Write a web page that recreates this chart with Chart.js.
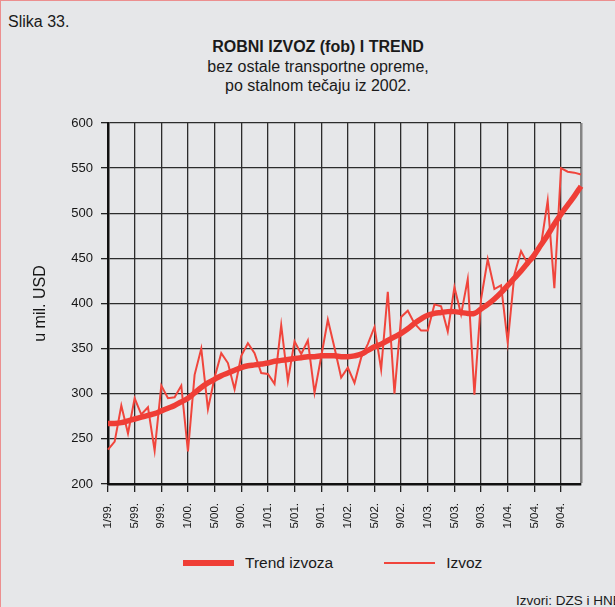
<!DOCTYPE html>
<html>
<head>
<meta charset="utf-8">
<script src="https://cdn.jsdelivr.net/npm/chart.js@4"></script>
<style>
  body { margin: 0; }
  #page {
    position: relative; width: 615px; height: 607px; overflow: hidden;
    background: #e6e7e9; box-sizing: border-box;
    border-top: 1px solid #ec8f8f; border-left: 1px solid #ec8f8f;
    font-family: "Liberation Sans", Arial, sans-serif; color: #1a1a1a;
  }
  .txt { position: absolute; white-space: nowrap; }
  #fig { left: 7px; top: 12px; font-size: 16px; }
  #head { left: 0; width: 634px; top: 36px; text-align: center; font-size: 16px; line-height: 19.5px; }
  #head b { font-weight: bold; }
  #src { left: 515px; top: 592px; font-size: 13.5px; }
  #chartBox { position: absolute; left: 0; top: 100px; width: 615px; height: 445px; }
  #legend { position: absolute; left: 182px; top: 553px; display: flex; gap: 51px; font-size: 15.5px; }
  #legend .item { display: flex; align-items: center; }
  #legend .line { width: 51px; margin-right: 11px; }
</style>
</head>
<body>
<div id="page">
  <div class="txt" id="fig">Slika 33.</div>
  <div class="txt" id="head"><b>ROBNI IZVOZ (fob) I TREND</b><br>bez ostale transportne opreme,<br>po stalnom tečaju iz 2002.</div>
  <div id="chartBox"><canvas id="exportChart"></canvas></div>
  <div id="legend"></div>
  <div class="txt" id="src">Izvori: DZS i HNB</div>
</div>
<script>
// months 1/99 .. 12/04
const years = ["99", "00", "01", "02", "03", "04"];
const months = [];
years.forEach(function (y) {
    for (let m = 1; m <= 12; m++) months.push(m + "/" + y + ".");
});

// monthly export, mil. USD
const izvoz = [
    238, 247, 287, 256, 295, 277, 285, 237, 309, 295, 296, 309,
    236, 321, 350, 283, 318, 345, 334, 305, 342, 356, 345, 323,
    322, 311, 376, 314, 358, 344, 359, 301, 341, 382, 351, 318,
    329, 312, 340, 355, 374, 327, 413, 300, 385, 392, 378, 370,
    370, 399, 397, 369, 418, 388, 427, 299, 405, 449, 416, 420,
    357, 432, 458, 444, 450, 465, 514, 417, 550, 546, 545, 543
];

// trend
const trend = [
    267, 267, 268, 270, 272, 274, 276, 278, 281, 284, 287, 291,
    295, 301, 307, 312, 316, 320, 323, 326, 329, 331, 332, 333,
    334, 336, 337, 338, 339, 340, 341, 341, 342, 342, 342, 341,
    341, 342, 344, 348, 352, 355, 359, 363, 367, 372, 378, 383,
    387, 389, 390, 391, 391, 390, 389, 389, 394, 399, 405, 412,
    420, 428, 436, 445, 454, 465, 476, 488, 499, 509, 519, 530
];

const yTicks = [200, 250, 300, 350, 400, 450, 500, 550, 600];

Chart.defaults.font.family = '"Liberation Sans", Arial, sans-serif';
Chart.defaults.color = "#161616";

const htmlLegend = {
    id: "htmlLegend",
    afterUpdate(chart) {
        const box = document.getElementById("legend");
        box.innerHTML = "";
        chart.data.datasets.forEach(function (ds) {
            const item = document.createElement("div");
            item.className = "item";
            const line = document.createElement("span");
            line.className = "line";
            line.style.height = ds.borderWidth + "px";
            line.style.background = ds.borderColor;
            const label = document.createElement("span");
            label.textContent = ds.label;
            item.appendChild(line);
            item.appendChild(label);
            box.appendChild(item);
        });
    }
};

const gridColor = function (ctx) {
    if (ctx.index === months.length - 1) return "#858585";
    return ctx.index % 4 === 0 ? "#2c2c2c" : "rgba(0,0,0,0)";
};

new Chart(document.getElementById("exportChart"), {
    type: "line",
    data: {
        labels: months,
        datasets: [
            {
                label: "Trend izvoza",
                data: trend,
                borderColor: "#ef3e36",
                borderWidth: 5.5,
                pointRadius: 0,
                tension: 0.4,
                fill: false
            },
            {
                label: "Izvoz",
                data: izvoz,
                borderColor: "#f0453c",
                borderWidth: 2,
                pointRadius: 0,
                tension: 0,
                fill: false
            }
        ]
    },
    options: {
        responsive: true,
        maintainAspectRatio: false,
        animation: false,
        layout: { padding: { left: 30, right: 35, top: 22, bottom: 0 } },
        plugins: {
            legend: { display: false },
            tooltip: { enabled: false }
        },
        scales: {
            x: {
                offset: false,
                afterFit: function (scale) { scale.height = 62; },
                grid: {
                    color: gridColor,
                    tickColor: function (ctx) {
                        return ctx.index % 4 === 0 && ctx.index < months.length - 1 ? "#222" : "rgba(0,0,0,0)";
                    },
                    lineWidth: function (ctx) { return ctx.index === months.length - 1 ? 2.5 : 1.3; },
                    tickLength: 8
                },
                border: { color: "#111", width: 2.5 },
                ticks: {
                    autoSkip: false,
                    maxRotation: 90,
                    minRotation: 90,
                    padding: 11,
                    font: { size: 11.5 },
                    callback: function (value, index) {
                        return index % 4 === 0 ? months[index] : "";
                    }
                }
            },
            y: {
                min: yTicks[0],
                max: yTicks[yTicks.length - 1],
                afterFit: function (scale) { scale.width = 77; },
                afterBuildTicks: function (scale) {
                    scale.ticks = yTicks.map(function (v) { return { value: v }; });
                },
                grid: { color: "#2c2c2c", lineWidth: 1.3, tickLength: 7, tickColor: "#222" },
                border: { color: "#111", width: 2.5 },
                ticks: { padding: 8, font: { size: 13 } },
                title: {
                    display: true,
                    text: "u mil. USD",
                    padding: { top: 0, bottom: 0 },
                    font: { size: 16 }
                }
            }
        }
    },
    plugins: [htmlLegend]
});
</script>
</body>
</html>
